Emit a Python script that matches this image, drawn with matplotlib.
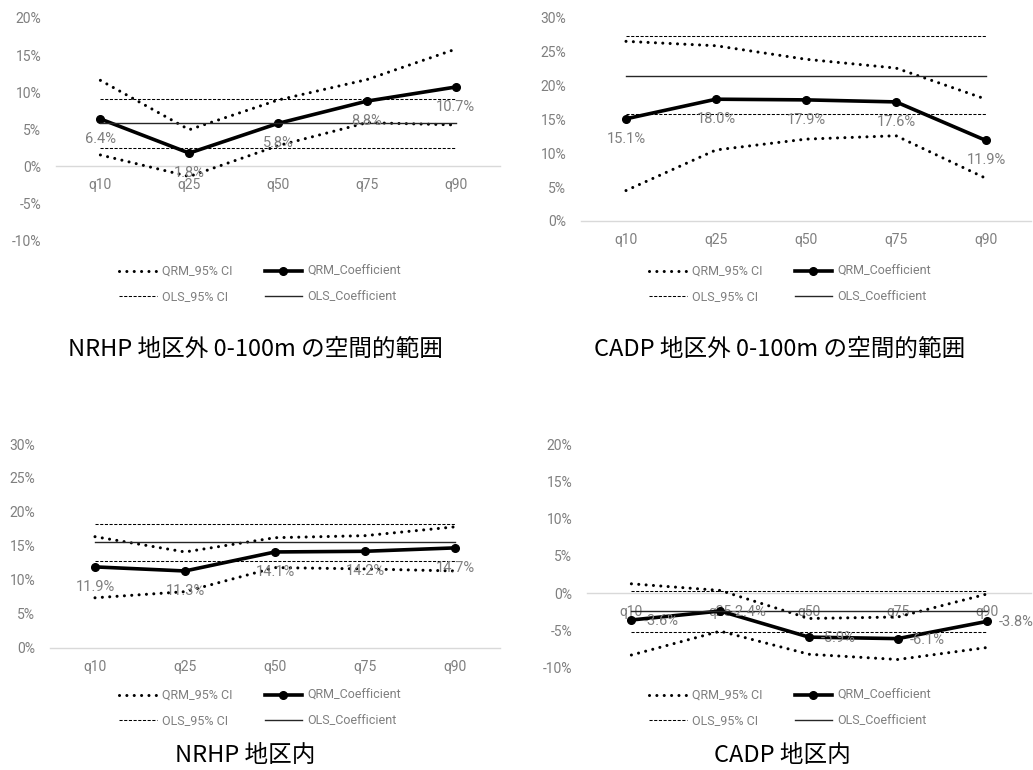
import matplotlib
matplotlib.use("Agg")
import matplotlib.pyplot as plt
from matplotlib.ticker import FuncFormatter, MultipleLocator

plt.rcParams['font.family'] = ['Roboto', 'DejaVu Sans']

W, H = 1033, 770

categories = ['q10', 'q25', 'q50', 'q75', 'q90']

# Panel 1: NRHP outside 0-100m
title_1 = 'NRHP 地区外 0-100m の空間的範囲'
qrm_coef_1 = [6.4, 1.8, 5.8, 8.8, 10.7]
qrm_upper_1 = [11.6, 4.95, 8.95, 11.7, 15.8]
qrm_lower_1 = [1.55, -1.35, 2.8, 5.9, 5.6]
ols_coef_1 = [5.8, 5.8, 5.8, 5.8, 5.8]
ols_upper_1 = [9.1, 9.1, 9.1, 9.1, 9.1]
ols_lower_1 = [2.55, 2.55, 2.55, 2.55, 2.55]

# Panel 2: CADP outside 0-100m
title_2 = 'CADP 地区外 0-100m の空間的範囲'
qrm_coef_2 = [15.1, 18.0, 17.9, 17.6, 11.9]
qrm_upper_2 = [26.55, 25.9, 23.9, 22.6, 18.0]
qrm_lower_2 = [4.5, 10.5, 12.1, 12.6, 6.3]
ols_coef_2 = [21.4, 21.4, 21.4, 21.4, 21.4]
ols_upper_2 = [27.3, 27.3, 27.3, 27.3, 27.3]
ols_lower_2 = [15.8, 15.8, 15.8, 15.8, 15.8]

# Panel 3: NRHP inside
title_3 = 'NRHP 地区内'
qrm_coef_3 = [11.9, 11.3, 14.1, 14.2, 14.7]
qrm_upper_3 = [16.35, 14.1, 16.2, 16.5, 17.8]
qrm_lower_3 = [7.35, 8.25, 11.8, 11.6, 11.3]
ols_coef_3 = [15.5, 15.5, 15.5, 15.5, 15.5]
ols_upper_3 = [18.2, 18.2, 18.2, 18.2, 18.2]
ols_lower_3 = [12.8, 12.8, 12.8, 12.8, 12.8]

# Panel 4: CADP inside
title_4 = 'CADP 地区内'
qrm_coef_4 = [-3.6, -2.4, -5.9, -6.1, -3.8]
qrm_upper_4 = [1.25, 0.36, -3.4, -3.2, -0.13]
qrm_lower_4 = [-8.3, -5.1, -8.2, -8.9, -7.3]
ols_coef_4 = [-2.45, -2.45, -2.45, -2.45, -2.45]
ols_upper_4 = [0.3, 0.3, 0.3, 0.3, 0.3]
ols_lower_4 = [-5.2, -5.2, -5.2, -5.2, -5.2]

legend_labels = ['QRM_95% CI', 'OLS_95% CI', 'QRM_Coefficient', 'OLS_Coefficient']

GRAY = '#7f7f7f'

fig = plt.figure(figsize=(W / 100, H / 100), dpi=100)


def px_axes(left, top, right, bottom):
    return fig.add_axes([left / W, 1 - bottom / H, (right - left) / W, (bottom - top) / H])


def panel(box, ylim, coef, upper, lower, ocoef, oupper, olower, label_side,
          legend_center, title, title_center):
    ax = px_axes(*box)
    x = list(range(len(categories)))
    dot = dict(color='black', lw=2.2, linestyle=(0, (0.01, 2.4)),
               dash_capstyle='round', zorder=3)
    l_up, = ax.plot(x, upper, **dot)
    l_lo, = ax.plot(x, lower, **dot)
    l_coef, = ax.plot(x, coef, color='black', lw=2.6, marker='o', markersize=5.5,
                      solid_joinstyle='round', zorder=4)
    l_oup, = ax.plot(x, oupper, color='black', lw=0.75, linestyle=(0, (3, 1.5)), zorder=5)
    ax.plot(x, olower, color='black', lw=0.75, linestyle=(0, (3, 1.5)), zorder=5)
    l_oc, = ax.plot(x, ocoef, color='#262626', lw=1.0, zorder=5)

    for xi, v in zip(x, coef):
        if label_side == 'below':
            ax.annotate(f'{v:.1f}%', (xi, v), xytext=(0, -20), textcoords='offset pixels',
                        ha='center', va='center', fontsize=10.5, color=GRAY, zorder=6)
        else:
            ax.annotate(f'{v:.1f}%', (xi, v), xytext=(12, -1), textcoords='offset pixels',
                        ha='left', va='center', fontsize=10.5, color=GRAY, zorder=6)

    ax.set_xlim(-0.5, len(categories) - 0.5)
    ax.set_ylim(*ylim)
    ax.yaxis.set_major_locator(MultipleLocator(5))
    ax.yaxis.set_major_formatter(FuncFormatter(lambda v, p: f'{v:.0f}%'))
    ax.set_xticks(x)
    ax.set_xticklabels(categories)
    for s in ('top', 'right', 'left'):
        ax.spines[s].set_visible(False)
    ax.spines['bottom'].set_position(('data', 0))
    ax.spines['bottom'].set_color('#d9d9d9')
    ax.spines['bottom'].set_linewidth(1.0)
    ax.spines['bottom'].set_zorder(1)
    ax.tick_params(axis='both', length=0, labelsize=10, labelcolor=GRAY)
    ax.tick_params(axis='y', pad=10.5)
    ax.tick_params(axis='x', pad=8.5)
    ax.patch.set_alpha(0)

    cx, cy = legend_center
    fig.legend([l_lo, l_oup, l_coef, l_oc], legend_labels, ncol=2, loc='center',
               bbox_to_anchor=(cx / W, 1 - cy / H), frameon=False, fontsize=9,
               labelcolor=GRAY, handlelength=3.0, handletextpad=0.4,
               columnspacing=2.6, labelspacing=0.95, borderpad=0)

    tx, ty = title_center
    fig.text(tx / W, 1 - ty / H, title, ha='center', va='center', fontsize=17,
             family=['Noto Sans CJK JP', 'DejaVu Sans'], color='black')
    return ax


panel((56, 18, 500, 240.7), (-10, 20), qrm_coef_1, qrm_upper_1, qrm_lower_1,
      ols_coef_1, ols_upper_1, ols_lower_1, 'below', (260, 284), title_1, (255, 349))
panel((581, 18, 1031, 221), (0, 30), qrm_coef_2, qrm_upper_2, qrm_lower_2,
      ols_coef_2, ols_upper_2, ols_lower_2, 'below', (790, 284), title_2, (780, 349))
panel((50, 444, 500, 647.7), (0, 30), qrm_coef_3, qrm_upper_3, qrm_lower_3,
      ols_coef_3, ols_upper_3, ols_lower_3, 'below', (260, 708), title_3, (245, 756))
panel((587, 444, 1031, 667.7), (-10, 20), qrm_coef_4, qrm_upper_4, qrm_lower_4,
      ols_coef_4, ols_upper_4, ols_lower_4, 'right', (790, 708), title_4, (782, 756))

fig.savefig('out.png', dpi=100)
